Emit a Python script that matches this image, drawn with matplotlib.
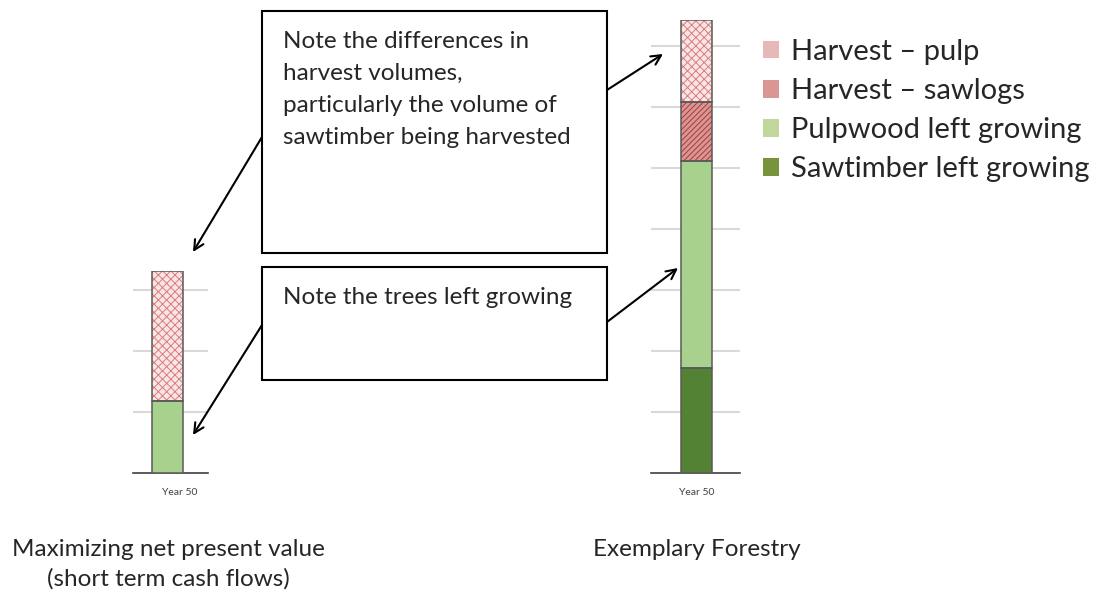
import matplotlib
matplotlib.use("Agg")
import matplotlib.pyplot as plt
from matplotlib.patches import Patch, Rectangle, FancyArrowPatch

plt.rcParams['font.family'] = ['Lato', 'DejaVu Sans']
plt.rcParams['hatch.linewidth'] = 0.7

# stacked volumes at year 50 (bottom to top)
series = ["Sawtimber left growing", "Pulpwood left growing",
          "Harvest \u2013 sawlogs", "Harvest \u2013 pulp"]
npv_values = [0.0, 1.18, 0.0, 2.12]
exemplary_values = [1.72, 3.38, 0.98, 1.33]
tick_label = "Year 50"

bar_face = ["#548235", "#a9d18e", "#d99694", "#f8e6e6"]
bar_hatch = [None, None, "//////", "xxxx"]
bar_hatch_col = ["#548235", "#a9d18e", "#a83a3a", "#dc7c7c"]
legend_col = ["#77933c", "#c3d69b", "#d99694", "#e6b9b8"]

W, H = 1099, 590
fig = plt.figure(figsize=(W / 100, H / 100), dpi=100)

px = 61.0  # pixels per unit
base = 472.5


def draw_stack(ax, values, xlim, ymax, tickx):
    bottom = 0.0
    for v, fc, hz, hc in zip(values, bar_face, bar_hatch, bar_hatch_col):
        if v > 0:
            ax.bar(0, v, width=1.0, bottom=bottom, color=fc, hatch=hz,
                   edgecolor=hc, linewidth=0, zorder=3)
            ax.bar(0, v, width=1.0, bottom=bottom, fill=False,
                   edgecolor="#595959", linewidth=1.1, zorder=4)
        bottom += v
    ax.set_xlim(*xlim)
    ax.set_ylim(0, ymax)
    ax.set_yticks(range(1, int(ymax) + 1))
    ax.yaxis.grid(True, color="#d9d9d9", linewidth=1.5)
    ax.set_axisbelow(True)
    ax.tick_params(axis='y', left=False, labelleft=False)
    ax.set_xticks([tickx])
    ax.set_xticklabels([tick_label], fontsize=7.5, color="#404040")
    ax.tick_params(axis='x', length=0, pad=11.5)
    for s in ["top", "right", "left"]:
        ax.spines[s].set_visible(False)
    ax.spines["bottom"].set_color("#404040")
    ax.spines["bottom"].set_linewidth(1.2)
    ax.patch.set_alpha(0)


ax1 = fig.add_axes([133 / W, (H - base) / H, 75 / W, 3.3 * px / H])
draw_stack(ax1, npv_values, (-1.13, 1.33), 3.3, 0.41)

ax2 = fig.add_axes([651 / W, (H - base) / H, 89 / W, 7.42 * px / H])
draw_stack(ax2, exemplary_values, (-1.47, 1.40), 7.42, 0.0)

# legend (top to bottom order as in the picture)
handles = [Patch(facecolor=c, edgecolor="none") for c in legend_col[::-1]]
fig.legend(handles, series[::-1], loc="upper left",
           bbox_to_anchor=(763 / W, 1 - 39 / H), frameon=False,
           fontsize=21, handlelength=0.55, handleheight=0.55,
           handletextpad=0.4, labelspacing=0.45, borderpad=0,
           borderaxespad=0, labelcolor="#262626")


# note boxes
def note_box(x0, y0, x1, y1, text):
    fig.add_artist(Rectangle((x0 / W, 1 - y1 / H), (x1 - x0) / W,
                             (y1 - y0) / H, transform=fig.transFigure,
                             fill=False, edgecolor="black", linewidth=1.5))
    fig.text((x0 + 21) / W, 1 - (y0 + 20) / H, text, ha="left", va="top",
             fontsize=17.5, color="#262626", linespacing=1.64)


note_box(262, 11, 607, 253, "Note the differences in\nharvest volumes,\n"
         "particularly the volume of\nsawtimber being harvested")
note_box(262, 267, 607, 380, "Note the trees left growing")


def arrow(x0, y0, x1, y1):
    fig.add_artist(FancyArrowPatch(
        (x0 / W, 1 - y0 / H), (x1 / W, 1 - y1 / H),
        transform=fig.transFigure, arrowstyle="->,head_length=7,head_width=3.5",
        color="black", linewidth=1.5, shrinkA=0, shrinkB=0))


arrow(262, 137, 193, 252)
arrow(262, 325, 193, 435)
arrow(607, 90, 663, 54)
arrow(607, 322, 678, 268)

fig.text(168 / W, 1 - 539 / H,
         "Maximizing net present value\n(short term cash flows)",
         ha="center", va="top", fontsize=17.5, color="#262626",
         linespacing=1.47)
fig.text(697 / W, 1 - 539 / H, "Exemplary Forestry", ha="center", va="top",
         fontsize=17.5, color="#262626")

fig.savefig("out.png", dpi=100)
